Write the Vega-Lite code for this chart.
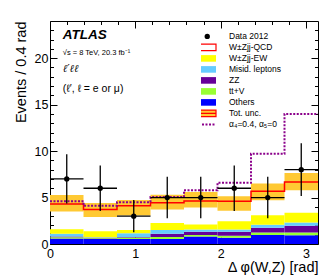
{
  "$schema": "https://vega.github.io/schema/vega-lite/v6.json",
  "width": 268,
  "height": 223,
  "autosize": {"type": "none"},
  "padding": {"left": 50, "top": 21, "right": 14, "bottom": 36},
  "background": "white",
  "config": {
    "view": {"stroke": "black", "strokeWidth": 1},
    "font": "Liberation Sans",
    "axis": {
      "grid": false, "domain": false, "tickColor": "black", "tickWidth": 1,
      "labelColor": "black", "labelFont": "Liberation Sans", "labelFontSize": 12.5,
      "labelFlush": false, "labelOverlap": false, "labelBound": false,
      "titleFont": "Liberation Sans", "titleFontSize": 14.5, "titleFontWeight": "normal", "titleColor": "black"
    }
  },
  "datasets": {
    "stack": [
      {"b": 0, "e": 0.3927, "comp": "Others", "lo": 0, "hi": 0.6},
      {"b": 0, "e": 0.3927, "comp": "tt+V", "lo": 0.6, "hi": 0.72},
      {"b": 0, "e": 0.3927, "comp": "ZZ", "lo": 0.72, "hi": 0.82},
      {"b": 0, "e": 0.3927, "comp": "Misid. leptons", "lo": 0.82, "hi": 1.1},
      {"b": 0, "e": 0.3927, "comp": "W±Zjj-EW", "lo": 1.1, "hi": 1.6},
      {"b": 0.3927, "e": 0.7854, "comp": "Others", "lo": 0, "hi": 0.55},
      {"b": 0.3927, "e": 0.7854, "comp": "tt+V", "lo": 0.55, "hi": 0.62},
      {"b": 0.3927, "e": 0.7854, "comp": "ZZ", "lo": 0.62, "hi": 0.66},
      {"b": 0.3927, "e": 0.7854, "comp": "Misid. leptons", "lo": 0.66, "hi": 0.72},
      {"b": 0.3927, "e": 0.7854, "comp": "W±Zjj-EW", "lo": 0.72, "hi": 1.36},
      {"b": 0.7854, "e": 1.1781, "comp": "Others", "lo": 0, "hi": 0.55},
      {"b": 0.7854, "e": 1.1781, "comp": "tt+V", "lo": 0.55, "hi": 0.7},
      {"b": 0.7854, "e": 1.1781, "comp": "ZZ", "lo": 0.7, "hi": 0.76},
      {"b": 0.7854, "e": 1.1781, "comp": "Misid. leptons", "lo": 0.76, "hi": 1.15},
      {"b": 0.7854, "e": 1.1781, "comp": "W±Zjj-EW", "lo": 1.15, "hi": 1.5},
      {"b": 1.1781, "e": 1.5708, "comp": "Others", "lo": 0, "hi": 0.55},
      {"b": 1.1781, "e": 1.5708, "comp": "tt+V", "lo": 0.55, "hi": 0.75},
      {"b": 1.1781, "e": 1.5708, "comp": "ZZ", "lo": 0.75, "hi": 1.1},
      {"b": 1.1781, "e": 1.5708, "comp": "Misid. leptons", "lo": 1.1, "hi": 1.5},
      {"b": 1.1781, "e": 1.5708, "comp": "W±Zjj-EW", "lo": 1.5, "hi": 2.25},
      {"b": 1.5708, "e": 1.9635, "comp": "Others", "lo": 0, "hi": 0.8},
      {"b": 1.5708, "e": 1.9635, "comp": "tt+V", "lo": 0.8, "hi": 0.96},
      {"b": 1.5708, "e": 1.9635, "comp": "ZZ", "lo": 0.96, "hi": 1.32},
      {"b": 1.5708, "e": 1.9635, "comp": "Misid. leptons", "lo": 1.32, "hi": 1.57},
      {"b": 1.5708, "e": 1.9635, "comp": "W±Zjj-EW", "lo": 1.57, "hi": 2.1},
      {"b": 1.9635, "e": 2.3562, "comp": "Others", "lo": 0, "hi": 0.68},
      {"b": 1.9635, "e": 2.3562, "comp": "tt+V", "lo": 0.68, "hi": 0.89},
      {"b": 1.9635, "e": 2.3562, "comp": "ZZ", "lo": 0.89, "hi": 1.32},
      {"b": 1.9635, "e": 2.3562, "comp": "Misid. leptons", "lo": 1.32, "hi": 1.57},
      {"b": 1.9635, "e": 2.3562, "comp": "W±Zjj-EW", "lo": 1.57, "hi": 2.46},
      {"b": 2.3562, "e": 2.7489, "comp": "Others", "lo": 0, "hi": 0.96},
      {"b": 2.3562, "e": 2.7489, "comp": "tt+V", "lo": 0.96, "hi": 1.25},
      {"b": 2.3562, "e": 2.7489, "comp": "ZZ", "lo": 1.25, "hi": 1.75},
      {"b": 2.3562, "e": 2.7489, "comp": "Misid. leptons", "lo": 1.75, "hi": 2.07},
      {"b": 2.3562, "e": 2.7489, "comp": "W±Zjj-EW", "lo": 2.07, "hi": 3.1},
      {"b": 2.7489, "e": 3.1416, "comp": "Others", "lo": 0, "hi": 0.93},
      {"b": 2.7489, "e": 3.1416, "comp": "tt+V", "lo": 0.93, "hi": 1.25},
      {"b": 2.7489, "e": 3.1416, "comp": "ZZ", "lo": 1.25, "hi": 1.96},
      {"b": 2.7489, "e": 3.1416, "comp": "Misid. leptons", "lo": 1.96, "hi": 2.32},
      {"b": 2.7489, "e": 3.1416, "comp": "W±Zjj-EW", "lo": 2.32, "hi": 3.36}
    ],
    "band": [
      {"b": 0, "e": 0.3927, "ulo": 3.5, "uhi": 5.28},
      {"b": 0.3927, "e": 0.7854, "ulo": 2.9, "uhi": 4.4},
      {"b": 0.7854, "e": 1.1781, "ulo": 3.08, "uhi": 4.73},
      {"b": 1.1781, "e": 1.5708, "ulo": 3.7, "uhi": 5.3},
      {"b": 1.5708, "e": 1.9635, "ulo": 3.93, "uhi": 5.6},
      {"b": 1.9635, "e": 2.3562, "ulo": 3.57, "uhi": 5.14},
      {"b": 2.3562, "e": 2.7489, "ulo": 4.71, "uhi": 6.5},
      {"b": 2.7489, "e": 3.1416, "ulo": 5.79, "uhi": 7.64}
    ],
    "steps": [
      {"x": 0, "qcd": 4.3, "alpha": 4.6},
      {"x": 0.3927, "qcd": 3.72, "alpha": 4.12},
      {"x": 0.7854, "qcd": 4.12, "alpha": 4.5},
      {"x": 1.1781, "qcd": 4.43, "alpha": 5.07},
      {"x": 1.5708, "qcd": 4.64, "alpha": 5.79},
      {"x": 1.9635, "qcd": 4.6, "alpha": 6.6},
      {"x": 2.3562, "qcd": 5.68, "alpha": 9.7},
      {"x": 2.7489, "qcd": 6.66, "alpha": 14.0},
      {"x": 3.1416, "qcd": 6.66, "alpha": 14.0}
    ],
    "points": [
      {"x": 0.1963, "b": 0, "e": 0.3927, "n": 7, "lo": 4.35, "hi": 9.65},
      {"x": 0.589, "b": 0.3927, "e": 0.7854, "n": 6, "lo": 3.55, "hi": 8.45},
      {"x": 0.9817, "b": 0.7854, "e": 1.1781, "n": 3, "lo": 1.27, "hi": 4.73},
      {"x": 1.3744, "b": 1.1781, "e": 1.5708, "n": 5, "lo": 2.76, "hi": 7.24},
      {"x": 1.7671, "b": 1.5708, "e": 1.9635, "n": 5, "lo": 2.76, "hi": 7.24},
      {"x": 2.1598, "b": 1.9635, "e": 2.3562, "n": 6, "lo": 3.55, "hi": 8.45},
      {"x": 2.5525, "b": 2.3562, "e": 2.7489, "n": 5, "lo": 2.76, "hi": 7.24},
      {"x": 2.9452, "b": 2.7489, "e": 3.1416, "n": 8, "lo": 5.17, "hi": 10.83}
    ]
  },
  "layer": [
    {
      "data": {"name": "stack"},
      "mark": {"type": "rect"},
      "encoding": {
        "x": {"field": "b", "type": "quantitative", "scale": {"domain": [0, 3.1416], "nice": false, "zero": false},
              "axis": {"orient": "bottom", "values": [0, 1, 2, 3], "tickSize": -7, "labels": false, "title": null}},
        "x2": {"field": "e"},
        "y": {"field": "lo", "type": "quantitative", "scale": {"domain": [0, 24], "nice": false},
              "axis": {"orient": "left", "values": [0, 5, 10, 15, 20], "tickSize": -7, "labels": false, "title": null}},
        "y2": {"field": "hi"},
        "color": {
          "field": "comp", "type": "nominal",
          "scale": {
            "domain": ["Data 2012", "W±Zjj-QCD", "W±Zjj-EW", "Misid. leptons", "ZZ", "tt+V", "Others", "Tot. unc.", "α₄=0.4, α₅=0"],
            "range": ["#000000", "#FFFFFF", "#FFFF00", "#66CCFF", "#660099", "#99FF33", "#0000FF", "#FFC933", "#8B008B"]
          },
          "legend": {
            "orient": "none", "legendX": 151, "legendY": 11, "title": null,
            "labelFont": "Liberation Sans", "labelFontSize": 8.5, "labelColor": "black",
            "symbolSize": 25, "rowPadding": 2, "clipHeight": 8.8, "labelOffset": 17.5, "symbolOffset": 2,
            "encode": {
              "symbols": {
                "update": {
                  "shape": {"signal": "datum.value === 'Data 2012' ? 'circle' : datum.value === 'α₄=0.4, α₅=0' ? 'M-3.5,0H3.5' : datum.value === 'Tot. unc.' ? 'M-3.5,-1.32H3.5V1.32H-3.5ZM-3.5,0H3.5' : 'M-3.5,-1.32H3.5V1.32H-3.5Z'"},
                  "size": {"signal": "datum.value === 'Data 2012' ? 28 : 25"},
                  "fill": {"signal": "datum.value === 'W±Zjj-QCD' ? '#FFFFFF' : datum.value === 'α₄=0.4, α₅=0' ? 'transparent' : scale('color', datum.value)"},
                  "stroke": {"signal": "datum.value === 'W±Zjj-QCD' || datum.value === 'Tot. unc.' ? '#FF0000' : datum.value === 'α₄=0.4, α₅=0' ? '#8B008B' : 'transparent'"},
                  "strokeWidth": {"signal": "datum.value === 'α₄=0.4, α₅=0' ? 2 : 1.2"},
                  "strokeDash": {"signal": "datum.value === 'α₄=0.4, α₅=0' ? [2, 1.5] : [1, 0]"},
                  "opacity": {"value": 1}
                }
              }
            }
          }
        }
      }
    },
    {
      "data": {"name": "band"},
      "mark": {"type": "rect", "color": "#FFC933"},
      "encoding": {
        "x": {"field": "b", "type": "quantitative", "scale": {"domain": [0, 3.1416], "nice": false, "zero": false},
              "axis": {"orient": "bottom", "values": [0.2, 0.4, 0.6, 0.8, 1.2, 1.4, 1.6, 1.8, 2.2, 2.4, 2.6, 2.8, 3.0], "tickSize": -3.5, "labels": false, "title": null}},
        "x2": {"field": "e"},
        "y": {"field": "ulo", "type": "quantitative", "scale": {"domain": [0, 24], "nice": false},
              "axis": {"orient": "left", "values": [1, 2, 3, 4, 6, 7, 8, 9, 11, 12, 13, 14, 16, 17, 18, 19, 21, 22, 23], "tickSize": -3.5, "labels": false, "title": null}},
        "y2": {"field": "uhi"}
      }
    },
    {
      "data": {"name": "steps"},
      "mark": {"type": "line", "interpolate": "step-after", "color": "#FF0000", "strokeWidth": 1.5},
      "encoding": {
        "x": {"field": "x", "type": "quantitative", "scale": {"domain": [0, 3.1416], "nice": false, "zero": false},
              "axis": {"orient": "top", "values": [0, 1, 2, 3], "tickSize": -7, "labels": false, "title": null}},
        "y": {"field": "qcd", "type": "quantitative", "scale": {"domain": [0, 24], "nice": false},
              "axis": {"orient": "right", "values": [0, 5, 10, 15, 20], "tickSize": -7, "labels": false, "title": null}}
      }
    },
    {
      "data": {"name": "steps"},
      "mark": {"type": "line", "interpolate": "step-after", "color": "#8B008B", "strokeWidth": 2, "strokeDash": [2, 1.5]},
      "encoding": {
        "x": {"field": "x", "type": "quantitative", "scale": {"domain": [0, 3.1416], "nice": false, "zero": false},
              "axis": {"orient": "top", "values": [0.2, 0.4, 0.6, 0.8, 1.2, 1.4, 1.6, 1.8, 2.2, 2.4, 2.6, 2.8, 3.0], "tickSize": -3.5, "labels": false, "title": null}},
        "y": {"field": "alpha", "type": "quantitative", "scale": {"domain": [0, 24], "nice": false},
              "axis": {"orient": "right", "values": [1, 2, 3, 4, 6, 7, 8, 9, 11, 12, 13, 14, 16, 17, 18, 19, 21, 22, 23], "tickSize": -3.5, "labels": false, "title": null}}
      }
    },
    {
      "data": {"name": "points"},
      "mark": {"type": "rule", "color": "black", "strokeWidth": 1.3},
      "encoding": {
        "x": {"field": "x", "type": "quantitative", "scale": {"domain": [0, 3.1416], "nice": false, "zero": false},
              "axis": {"orient": "bottom", "values": [0, 1, 2, 3], "ticks": false, "labelPadding": 3, "labelOverlap": false, "title": "Δ φ(W,Z) [rad]", "titleAnchor": "end", "titlePadding": 1}},
        "y": {"field": "lo", "type": "quantitative", "scale": {"domain": [0, 24], "nice": false},
              "axis": {"orient": "left", "values": [0, 5, 10, 15, 20], "ticks": false, "labelPadding": 2, "labelOverlap": false, "labelSeparation": 0, "title": "Events / 0.4 rad", "titleAnchor": "end", "titlePadding": 6}},
        "y2": {"field": "hi"}
      }
    },
    {
      "data": {"name": "points"},
      "mark": {"type": "rule", "color": "black", "strokeWidth": 1.3},
      "encoding": {
        "x": {"field": "b", "type": "quantitative", "axis": null},
        "x2": {"field": "e"},
        "y": {"field": "n", "type": "quantitative", "axis": null}
      }
    },
    {
      "data": {"name": "points"},
      "mark": {"type": "point", "filled": true, "color": "black", "size": 28, "opacity": 1},
      "encoding": {
        "x": {"field": "x", "type": "quantitative", "axis": null},
        "y": {"field": "n", "type": "quantitative", "axis": null}
      }
    },
    {
      "data": {"values": [{"t": "ATLAS"}]},
      "mark": {"type": "text", "align": "left", "baseline": "middle", "font": "Liberation Sans", "fontStyle": "italic", "fontWeight": "bold", "fontSize": 13.5, "color": "black"},
      "encoding": {"x": {"datum": 0.15, "type": "quantitative", "axis": null}, "y": {"datum": 22.45, "type": "quantitative", "axis": null}, "text": {"field": "t"}}
    },
    {
      "data": {"values": [{"t": "√s = 8 TeV, 20.3 fb⁻¹"}]},
      "mark": {"type": "text", "align": "left", "baseline": "middle", "font": "Liberation Sans", "fontSize": 7.5, "color": "black"},
      "encoding": {"x": {"datum": 0.15, "type": "quantitative", "axis": null}, "y": {"datum": 20.6, "type": "quantitative", "axis": null}, "text": {"field": "t"}}
    },
    {
      "data": {"values": [{"t": "ℓ′ℓℓ"}]},
      "mark": {"type": "text", "align": "left", "baseline": "middle", "font": "DejaVu Serif", "fontStyle": "italic", "fontSize": 10.5, "color": "black"},
      "encoding": {"x": {"datum": 0.15, "type": "quantitative", "axis": null}, "y": {"datum": 18.86, "type": "quantitative", "axis": null}, "text": {"field": "t"}}
    },
    {
      "data": {"values": [{"t": "(ℓ′, ℓ = e or μ)"}]},
      "mark": {"type": "text", "align": "left", "baseline": "middle", "font": "Liberation Sans", "fontSize": 10.5, "color": "black"},
      "encoding": {"x": {"datum": 0.15, "type": "quantitative", "axis": null}, "y": {"datum": 16.72, "type": "quantitative", "axis": null}, "text": {"field": "t"}}
    }
  ],
  "resolve": {"axis": {"x": "independent", "y": "independent"}}
}
